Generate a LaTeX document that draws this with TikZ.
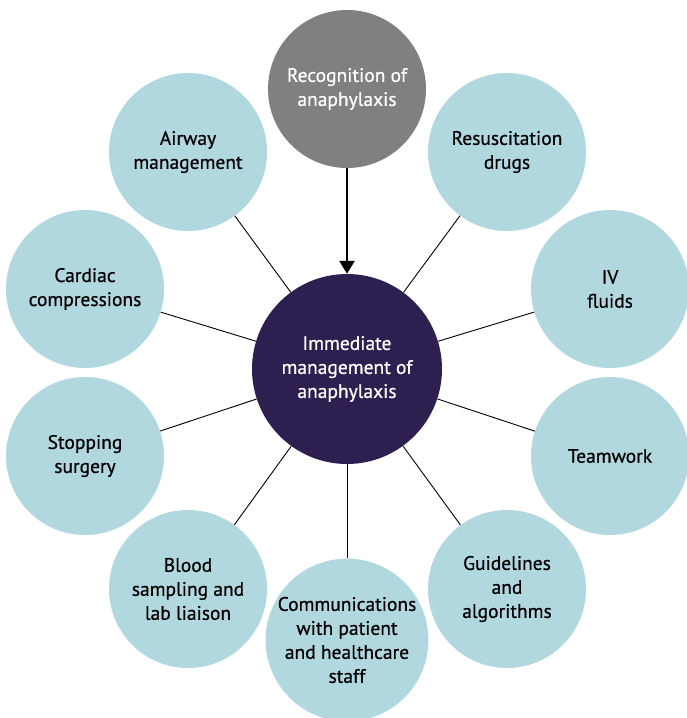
\documentclass[tikz,border=0pt]{standalone}
\usepackage{fontspec}
\setmainfont{PT Sans}[FakeBold=0.6]
\usetikzlibrary{arrows.meta}
\definecolor{outerblue}{HTML}{B2D8DF}
\definecolor{topgray}{HTML}{808080}
\definecolor{centerpurple}{HTML}{2D2050}
\begin{document}
\begin{tikzpicture}[x=1pt,y=-1pt,
  outer/.style={circle,fill=outerblue,minimum size=158pt,inner sep=0pt,align=center,font=\fontsize{19.5}{24}\selectfont,text=black},
  topc/.style={outer,fill=topgray,text=white},
  hub/.style={circle,fill=centerpurple,minimum size=190pt,inner sep=0pt,align=center,font=\fontsize{19.5}{24}\selectfont,text=white},
  spoke/.style={draw=black,line width=0.9pt},
  mainarrow/.style={draw=black,line width=2.6pt,-{Triangle[length=13pt,width=15pt]}}]
\useasboundingbox (0,0) rectangle (686,718);
\node[hub] (c) at (347,369) {Immediate\\management of\\anaphylaxis};
\node[topc] (top) at (347,89) {Recognition of\\anaphylaxis};
\node[outer] (air) at (188,152) {Airway\\management};
\node[outer] (res) at (507,152) {Resuscitation\\drugs};
\node[outer] (car) at (85,289) {Cardiac\\compressions};
\node[outer] (iv) at (610,289) {IV\\fluids};
\node[outer] (stop) at (85,456) {Stopping\\surgery};
\node[outer] (team) at (610,456) {Teamwork};
\node[outer] (blood) at (188,589) {Blood\\sampling and\\lab liaison};
\node[outer] (guide) at (507,589) {Guidelines\\and\\algorithms};
\node[outer] (comm) at (347,640) {Communications\\with patient\\and healthcare\\staff};
\foreach \n in {air,res,car,iv,stop,team,blood,guide,comm}
  \draw[spoke] (c) -- (\n);
\draw[mainarrow] (top) -- (c);
\end{tikzpicture}
\end{document}
